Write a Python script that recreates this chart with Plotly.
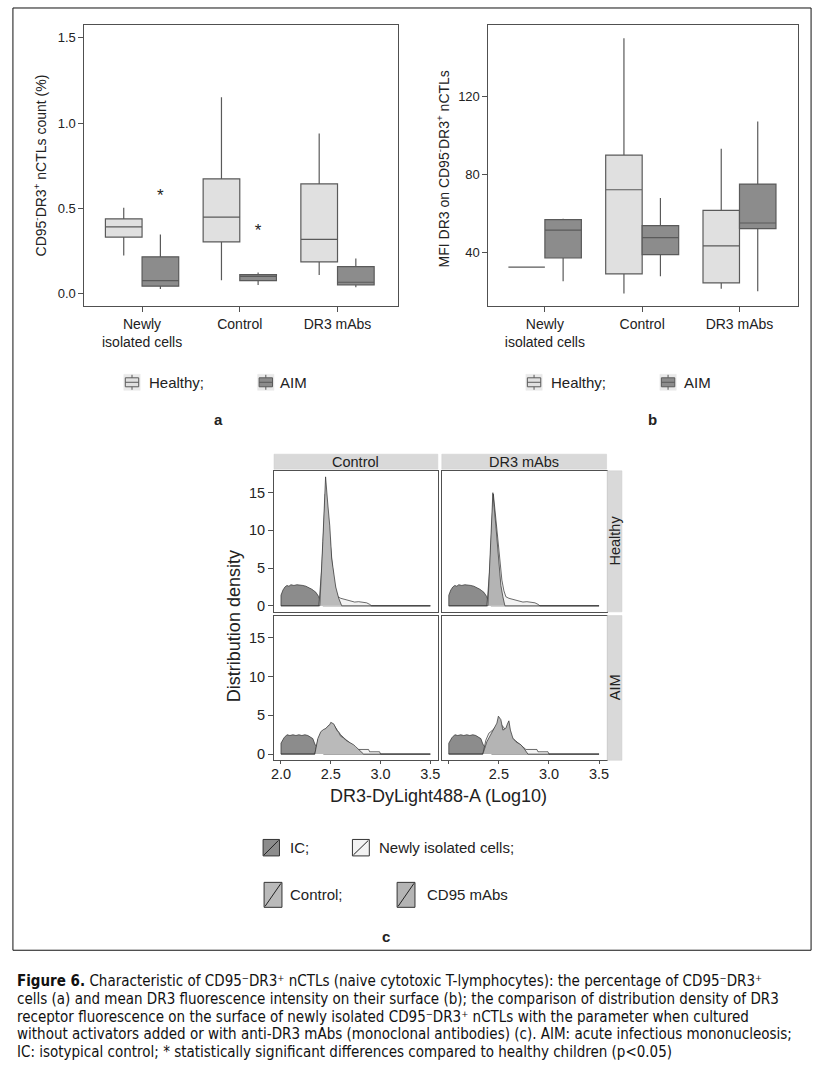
import plotly.graph_objects as go

W, H = 824, 1080
def X(px):
    return px / W
def Y(py):
    return 1 - py / H

FONT = "Liberation Sans, Arial, Helvetica, sans-serif"
NARROW = "Liberation Sans Narrow, DejaVu Sans Condensed, Arial Narrow, Liberation Sans, sans-serif"
TXT = "#222222"
AX = "#505050"

# ---------------- data ----------------
categories = ["Newly<br>isolated cells", "Control", "DR3 mAbs"]
cat_pos = [0, 1, 2]

# panel a: CD95-DR3+ nCTLs count (%)
a_healthy_low = [0.223, 0.078, 0.108]
a_healthy_q1 = [0.331, 0.303, 0.186]
a_healthy_med = [0.391, 0.448, 0.317]
a_healthy_q3 = [0.438, 0.673, 0.643]
a_healthy_high = [0.503, 1.152, 0.939]
a_aim_low = [0.027, 0.050, 0.037]
a_aim_q1 = [0.043, 0.076, 0.051]
a_aim_med = [0.076, 0.100, 0.066]
a_aim_q3 = [0.215, 0.111, 0.158]
a_aim_high = [0.346, 0.123, 0.205]
a_star_cat = [0, 1]
a_star_y = [0.57, 0.36]

# panel b: MFI DR3
b_healthy_low = [32.7, 19.2, 21.6]
b_healthy_q1 = [32.7, 29.3, 24.7]
b_healthy_med = [32.7, 72.3, 43.6]
b_healthy_q3 = [32.7, 90.0, 61.8]
b_healthy_high = [32.7, 149.8, 93.3]
b_aim_low = [25.5, 28.1, 20.4]
b_aim_q1 = [37.4, 39.1, 52.4]
b_aim_med = [51.6, 47.8, 55.3]
b_aim_q3 = [57.0, 54.0, 75.2]
b_aim_high = [57.5, 68.1, 107.2]

# panel c: distribution densities (log10 fluorescence)
ic_h_x = [2.00, 2.00, 2.02, 2.04, 2.06, 2.08, 2.10, 2.13, 2.16, 2.19, 2.22, 2.25, 2.27, 2.29, 2.31, 2.33, 2.35, 2.38, 2.40, 2.42, 3.50]
ic_h_y = [0.0, 1.4, 2.1, 2.5, 2.7, 2.6, 2.8, 2.7, 2.8, 2.8, 2.7, 2.6, 2.5, 2.4, 2.2, 2.0, 1.8, 1.2, 0.4, 0.0, 0.0]
nw_h_x = [2.00, 2.38, 2.41, 2.445, 2.47, 2.49, 2.51, 2.53, 2.55, 2.57, 2.60, 2.63, 2.66, 2.70, 2.74, 2.78, 2.82, 2.86, 2.89, 2.91, 3.50]
nw_h_y = [0.0, 0.0, 5.0, 14.8, 11.5, 8.5, 5.5, 3.4, 2.0, 1.2, 1.0, 0.9, 0.75, 0.6, 0.5, 0.55, 0.45, 0.4, 0.2, 0.0, 0.0]
ct_h_x = [2.00, 2.39, 2.42, 2.448, 2.47, 2.49, 2.51, 2.53, 2.55, 2.58, 2.61, 3.50]
ct_h_y = [0.0, 0.0, 8.5, 17.1, 13.5, 10.6, 6.2, 4.0, 2.5, 1.0, 0.0, 0.0]
cd_h_x = [2.00, 2.39, 2.42, 2.44, 2.47, 2.50, 2.52, 2.54, 2.56, 3.50]
cd_h_y = [0.0, 0.0, 9.0, 15.0, 10.6, 6.2, 2.7, 1.2, 0.0, 0.0]

ic_a_x = [2.00, 2.00, 2.03, 2.06, 2.09, 2.12, 2.15, 2.18, 2.21, 2.24, 2.27, 2.30, 2.32, 2.34, 2.37, 2.40, 2.43, 3.50]
ic_a_y = [0.0, 1.4, 2.1, 2.5, 2.4, 2.5, 2.4, 2.5, 2.4, 2.5, 2.4, 2.2, 2.0, 1.3, 0.7, 0.3, 0.0, 0.0]
nw_a_x = [2.00, 2.34, 2.37, 2.40, 2.43, 2.46, 2.49, 2.51, 2.54, 2.57, 2.60, 2.64, 2.68, 2.72, 2.76, 2.77, 2.88, 2.89, 2.99, 3.00, 3.50]
nw_a_y = [0.0, 0.0, 1.8, 2.7, 3.0, 3.4, 3.8, 3.9, 3.6, 3.0, 2.5, 2.0, 1.6, 1.2, 0.8, 0.6, 0.6, 0.3, 0.3, 0.0, 0.0]
ct_a_x = [2.00, 2.34, 2.37, 2.40, 2.43, 2.45, 2.47, 2.49, 2.50, 2.52, 2.53, 2.56, 2.58, 2.60, 2.63, 2.65, 2.68, 2.70, 2.73, 2.75, 2.77, 2.79, 2.83, 3.50]
ct_a_y = [0.0, 0.0, 2.0, 2.9, 3.2, 3.3, 3.6, 3.8, 4.1, 4.0, 3.9, 3.1, 2.8, 2.3, 2.1, 1.8, 1.6, 1.4, 1.2, 0.96, 0.7, 0.5, 0.0, 0.0]
cd_a_x = [2.00, 2.34, 2.38, 2.425, 2.46, 2.48, 2.495, 2.52, 2.54, 2.57, 2.585, 2.60, 2.615, 2.64, 2.67, 2.72, 2.75, 2.79, 3.50]
cd_a_y = [0.0, 0.0, 1.6, 2.7, 3.35, 4.0, 4.9, 4.45, 3.1, 3.35, 3.9, 4.3, 3.1, 2.05, 1.6, 1.2, 0.75, 0.0, 0.0]

# ---------------- styles ----------------
HEALTHY_FILL = "#e0e0e0"
AIM_FILL = "#8c8c8c"
BOX_LINE = "#5a5a5a"
IC_FILL = "#8c8c8c"
NW_FILL = "#f3f3f3"
CT_FILL = "#bababa"
CD_FILL = "#b4b4b4"
CURVE_LINE = "#2e2e2e"

fig = go.Figure()

def add_box(xa, ya, low, q1, med, q3, high, fill, grp):
    fig.add_trace(go.Box(
        x=cat_pos, lowerfence=low, q1=q1, median=med, q3=q3, upperfence=high,
        fillcolor=fill, line=dict(color=BOX_LINE, width=1.2), whiskerwidth=0,
        boxpoints=False, offsetgroup=grp, xaxis=xa, yaxis=ya, showlegend=False,
        hoverinfo="skip"))

add_box("x", "y", a_healthy_low, a_healthy_q1, a_healthy_med, a_healthy_q3, a_healthy_high, HEALTHY_FILL, "h")
add_box("x", "y", a_aim_low, a_aim_q1, a_aim_med, a_aim_q3, a_aim_high, AIM_FILL, "a")
add_box("x2", "y2", b_healthy_low, b_healthy_q1, b_healthy_med, b_healthy_q3, b_healthy_high, HEALTHY_FILL, "h")
add_box("x2", "y2", b_aim_low, b_aim_q1, b_aim_med, b_aim_q3, b_aim_high, AIM_FILL, "a")

fig.add_trace(go.Scatter(
    x=[c + 0.1875 for c in a_star_cat], y=a_star_y, mode="text", text=["*"] * len(a_star_cat),
    textfont=dict(family=FONT, size=17, color=TXT), xaxis="x", yaxis="y",
    showlegend=False, hoverinfo="skip"))

def add_curve(xa, ya, xs, ys, fill):
    fig.add_trace(go.Scatter(
        x=xs, y=ys, mode="lines", fill="tozeroy", fillcolor=fill,
        line=dict(color=CURVE_LINE, width=0.7), xaxis=xa, yaxis=ya,
        showlegend=False, hoverinfo="skip"))

panels = [
    ("x3", "y3", ic_h_x, ic_h_y, nw_h_x, nw_h_y, ct_h_x, ct_h_y, CT_FILL),
    ("x4", "y4", ic_h_x, ic_h_y, nw_h_x, nw_h_y, cd_h_x, cd_h_y, CD_FILL),
    ("x5", "y5", ic_a_x, ic_a_y, nw_a_x, nw_a_y, ct_a_x, ct_a_y, CT_FILL),
    ("x6", "y6", ic_a_x, ic_a_y, nw_a_x, nw_a_y, cd_a_x, cd_a_y, CD_FILL),
]
for xa, ya, icx, icy, nwx, nwy, trx, try_, trfill in panels:
    add_curve(xa, ya, icx, icy, IC_FILL)
    add_curve(xa, ya, nwx, nwy, NW_FILL)
    add_curve(xa, ya, trx, try_, trfill)

# ---------------- axes ----------------
def box_axis(**kw):
    d = dict(showline=True, mirror=True, linecolor=AX, linewidth=1, ticks="outside",
             ticklen=5, tickcolor=AX, tickwidth=1, showgrid=False, zeroline=False,
             tickfont=dict(family=FONT, size=13, color=TXT))
    d.update(kw)
    return d

layout = dict(
    width=W, height=H, margin=dict(l=0, r=0, t=0, b=0),
    paper_bgcolor="white", plot_bgcolor="white",
    boxmode="group", boxgap=0.25, boxgroupgap=0.0,
    showlegend=False,
    font=dict(family=FONT, color=TXT),
)
layout["xaxis"] = box_axis(domain=[X(82), X(398)], range=[-0.59, 2.62], tickvals=cat_pos,
                           ticktext=categories, anchor="y",
                           tickfont=dict(family=FONT, size=14, color=TXT))
layout["yaxis"] = box_axis(domain=[Y(307), Y(25)], range=[-0.076, 1.576],
                           tickvals=[0, 0.5, 1.0, 1.5], ticktext=["0.0", "0.5", "1.0", "1.5"], anchor="x")
layout["xaxis2"] = box_axis(domain=[X(489), X(800.7)], range=[-0.58, 2.6], tickvals=cat_pos,
                            ticktext=categories, anchor="y2",
                            tickfont=dict(family=FONT, size=14, color=TXT))
layout["yaxis2"] = box_axis(domain=[Y(306.7), Y(25)], range=[12.77, 156.6],
                            tickvals=[40, 80, 120], anchor="x2")

c_cols = [(273, 438), (442, 608)]
c_rows = [(471.7, 613), (616.7, 761.7)]
c_xticks = [2.0, 2.5, 3.0, 3.5]
n = 3
for ri, (yt, yb) in enumerate(c_rows):
    for ci, (xl, xr) in enumerate(c_cols):
        sx = str(n)
        xax = dict(showline=True, mirror=True, linecolor=AX, linewidth=1, showgrid=False,
                   zeroline=False, domain=[X(xl), X(xr)], range=[1.93, 3.575],
                   anchor="y" + sx, tickfont=dict(family=FONT, size=14.5, color=TXT))
        yax = dict(showline=True, mirror=True, linecolor=AX, linewidth=1, showgrid=False,
                   zeroline=False, domain=[Y(yb), Y(yt)], range=[-0.8, 17.9],
                   anchor="x" + sx, tickfont=dict(family=FONT, size=14.5, color=TXT))
        if ri == 1:
            xax.update(ticks="outside", ticklen=3, tickcolor=AX, tickvals=c_xticks,
                       ticklabelstandoff=-3,
                       ticktext=(["2.0", "2.5", "3.0", "3.5"] if ci == 0 else ["", "2.5", "3.0", "3.5"]))
        else:
            xax.update(showticklabels=False, ticks="")
        if ci == 0:
            yax.update(ticks="outside", ticklen=5, tickcolor=AX, tickvals=[0, 5, 10, 15])
        else:
            yax.update(showticklabels=False, ticks="")
        layout["xaxis" + sx] = xax
        layout["yaxis" + sx] = yax
        n += 1

fig.update_layout(**layout)

# ---------------- decorations ----------------
shapes = []
annotations = []

def rect(x0, y0, x1, y1, fill=None, line="#444", lw=1):
    shapes.append(dict(type="rect", xref="paper", yref="paper", x0=X(x0), x1=X(x1),
                       y0=Y(y1), y1=Y(y0), fillcolor=fill if fill else "rgba(0,0,0,0)",
                       line=dict(color=line, width=lw), layer="above"))

def line(x0, y0, x1, y1, color="#444", lw=1):
    shapes.append(dict(type="line", xref="paper", yref="paper", x0=X(x0), x1=X(x1),
                       y0=Y(y0), y1=Y(y1), line=dict(color=color, width=lw), layer="above"))

def text(x, y, s, size=14, xanchor="left", angle=0, bold=False, family=FONT, color=TXT):
    annotations.append(dict(xref="paper", yref="paper", x=X(x), y=Y(y), text=("<b>%s</b>" % s) if bold else s,
                            showarrow=False, xanchor=xanchor, yanchor="middle", textangle=angle,
                            font=dict(family=family, size=size, color=color)))

# outer frame
rect(10, 8, 814, 952, line="#111", lw=1)

# axis titles
text(37, 166, "CD95<sup>-</sup>DR3<sup>+</sup> nCTLs count (%)", size=14, xanchor="center", angle=-90)
text(443, 169, "MFI DR3 on CD95<sup>-</sup>DR3<sup>+</sup> nCTLs", size=14, xanchor="center", angle=-90)
text(233, 627, "Distribution density", size=18, xanchor="center", angle=-90)
text(439, 797, "DR3-DyLight488-A (Log10)", size=18, xanchor="center")

# box legends
def box_key(x0, fill):
    rect(x0, 375, x0 + 16.5, 391, fill="#e9e9e9", line="#e9e9e9", lw=0.5)
    rect(x0 + 1.5, 378.5, x0 + 15, 387.5, fill=fill, line=BOX_LINE, lw=1)
    line(x0 + 1.5, 383, x0 + 15, 383, color=BOX_LINE, lw=1)
    line(x0 + 8.25, 375.5, x0 + 8.25, 378.5, color=BOX_LINE, lw=1)
    line(x0 + 8.25, 387.5, x0 + 8.25, 390.5, color=BOX_LINE, lw=1)

box_key(121.7, HEALTHY_FILL)
text(145, 383, "Healthy;", size=15)
box_key(256.5, AIM_FILL)
text(277.5, 383, "AIM", size=15)
box_key(526.7, HEALTHY_FILL)
text(550, 383, "Healthy;", size=15)
box_key(661.7, AIM_FILL)
text(683.5, 383, "AIM", size=15)

text(217, 420, "a", size=15, xanchor="center", bold=True)
text(654, 420, "b", size=15, xanchor="center", bold=True)

# facet strips
STRIP = "#d9d9d9"
rect(273, 455, 438, 470, fill=STRIP, line="#cfcfcf", lw=0.5)
rect(442, 455, 608, 470, fill=STRIP, line="#cfcfcf", lw=0.5)
rect(608.5, 471.7, 623.5, 613, fill=STRIP, line="#cfcfcf", lw=0.5)
rect(608.5, 616.7, 623.5, 761.7, fill=STRIP, line="#cfcfcf", lw=0.5)
text(355.5, 462.5, "Control", size=14.5, xanchor="center")
text(525, 462.5, "DR3 mAbs", size=14.5, xanchor="center")
text(616, 542, "Healthy", size=14.5, xanchor="center", angle=-90)
text(616, 689, "AIM", size=14.5, xanchor="center", angle=-90)

# density legend
def area_key(x0, y0, x1, y1, fill):
    rect(x0, y0, x1, y1, fill=fill, line="#333", lw=1)
    line(x0 + 1, y1 - 1, x1 - 1, y0 + 1, color="#222", lw=1)

area_key(262, 841, 278.5, 857.5, IC_FILL)
text(287, 849, "IC;", size=15)
area_key(352, 841, 369, 857.5, NW_FILL)
text(377, 849, "Newly isolated cells;", size=15)
area_key(263, 884, 281, 909, CT_FILL)
text(287, 896, "Control;", size=15)
area_key(397, 884, 415, 909, CD_FILL)
text(425, 896, "CD95 mAbs", size=15)
text(386, 938, "c", size=15, xanchor="center", bold=True)

# caption
CELL = "CD95\u207bDR3\u207a"
cap_lines = [
    "<b>Figure 6.</b> Characteristic of " + CELL + " nCTLs (naive cytotoxic T-lymphocytes): the percentage of " + CELL,
    "cells (a) and mean DR3 fluorescence intensity on their surface (b); the comparison of distribution density of DR3",
    "receptor fluorescence on the surface of newly isolated " + CELL + " nCTLs with the parameter when cultured",
    "without activators added or with anti-DR3 mAbs (monoclonal antibodies) (c). AIM: acute infectious mononucleosis;",
    "IC: isotypical control; * statistically significant differences compared to healthy children (p&lt;0.05)",
]
cap_y = [983, 1001, 1018.5, 1036, 1054]
for s, yy in zip(cap_lines, cap_y):
    text(12, yy, s, size=15, family=NARROW, color="#111")

fig.update_layout(shapes=shapes, annotations=annotations)
fig.write_html("out.html", config={"displayModeBar": False},
               post_script="document.body.style.margin='0';document.body.style.overflow='hidden';")
